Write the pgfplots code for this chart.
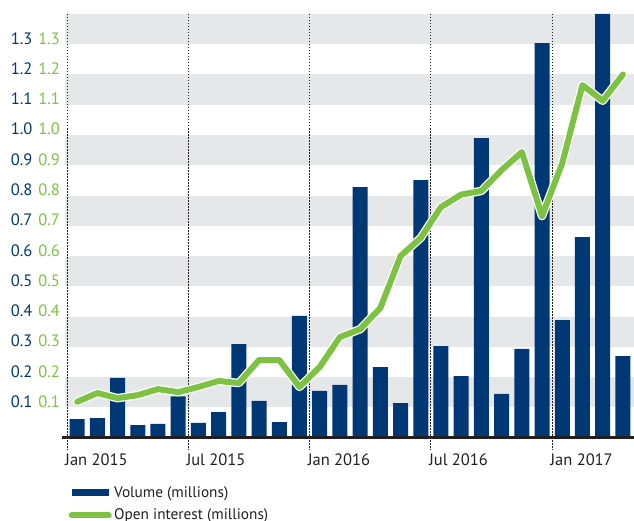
\documentclass[border=0pt]{standalone}
\usepackage{pgfplots}
\usepackage{pgfplotstable}
\pgfplotsset{compat=1.18}
\usepackage{fontspec}
\setmainfont{PT Sans}
\definecolor{volblue}{HTML}{003876}
\definecolor{oigreen}{HTML}{7DC242}
\definecolor{band}{HTML}{E6E7E8}
\definecolor{axisdark}{HTML}{231F20}
\newcommand\yl[1]{\textcolor{volblue}{#1}\hspace{6pt}\textcolor{oigreen}{#1}}
\pgfplotstableread{
x vol oi
0.5 0.061 0.118
1.5 0.064 0.147
2.5 0.197 0.130
3.5 0.041 0.140
4.5 0.045 0.160
5.5 0.136 0.150
6.5 0.048 0.167
7.5 0.084 0.187
8.5 0.309 0.180
9.5 0.121 0.256
10.5 0.051 0.256
11.5 0.402 0.167
12.5 0.154 0.233
13.5 0.174 0.332
14.5 0.828 0.358
15.5 0.233 0.428
16.5 0.114 0.600
17.5 0.851 0.660
18.5 0.302 0.762
19.5 0.203 0.803
20.5 0.990 0.815
21.5 0.144 0.884
22.5 0.293 0.944
23.5 1.304 0.732
24.5 0.388 0.907
25.5 0.662 1.165
26.5 1.400 1.113
27.5 0.269 1.200
}\datatable
\begin{document}
\begin{tikzpicture}
\path[use as bounding box] (0,0) rectangle (634pt,520pt);
\begin{axis}[
  at={(65pt,82.5pt)}, anchor=south west,
  scale only axis, width=569pt, height=423.5pt,
  xmin=-0.1, xmax=28.05, ymin=0, ymax=1.4,
  clip=false,
  axis line style={draw=none},
  tick style={draw=none},
  xtick={0,6,12,18,24},
  xticklabels={Jan 2015,Jul 2015,Jan 2016,Jul 2016,Jan 2017},
  ytick={0.1,0.2,0.3,0.4,0.5,0.6,0.7,0.8,0.9,1.0,1.1,1.2,1.3},
  yticklabels={\yl{0.1},\yl{0.2},\yl{0.3},\yl{0.4},\yl{0.5},\yl{0.6},\yl{0.7},\yl{0.8},\yl{0.9},\yl{1.0},\yl{1.1},\yl{1.2},\yl{1.3}},
  xticklabel style={anchor=base west, inner sep=0pt, xshift=-2pt, yshift=-27.5pt, font=\fontsize{16.5}{20}\selectfont, text=axisdark},
  yticklabel style={anchor=base east, inner sep=0pt, xshift=-5pt, font=\fontsize{16.5}{20}\selectfont},
  legend style={at={(0,0)}, anchor=north west, xshift=3pt, yshift=-47pt, draw=none, fill=none, inner sep=0pt,
    font=\fontsize{15.3}{18}\selectfont, text=axisdark, row sep=6pt,
    /tikz/every even column/.append style={column sep=10pt}},
  legend cell align=left,
]
\fill[band] (axis cs:-0.1,0.1) rectangle (axis cs:28.05,0.2);
\fill[band] (axis cs:-0.1,0.3) rectangle (axis cs:28.05,0.4);
\fill[band] (axis cs:-0.1,0.5) rectangle (axis cs:28.05,0.6);
\fill[band] (axis cs:-0.1,0.7) rectangle (axis cs:28.05,0.8);
\fill[band] (axis cs:-0.1,0.9) rectangle (axis cs:28.05,1.0);
\fill[band] (axis cs:-0.1,1.1) rectangle (axis cs:28.05,1.2);
\fill[band] (axis cs:-0.1,1.3) rectangle (axis cs:28.05,1.4);
\foreach \m in {0,6,12,18,24}{
  \edef\temp{\noexpand\draw[axisdark, line width=1pt, dash pattern=on 1.5pt off 1.5pt] (axis cs:\m,1.4) -- (axis cs:\m,-0.04);}
  \temp
}
\addplot[ybar, bar width=15pt, bar shift=0pt, fill=volblue, draw=none,
  legend image code/.code={\draw[volblue, line width=7pt] (0pt,0pt) -- (37pt,0pt);}]
  table[x=x, y=vol] {\datatable};
\addlegendentry{Volume (millions)}
\draw[axisdark, line width=3pt] (axis cs:-0.25,0) -- (axis cs:28.05,0);
\addplot[white, line width=8.5pt, line join=round, line cap=round, forget plot] table[x=x, y=oi] {\datatable};
\addplot[oigreen, line width=6pt, line join=round, line cap=round,
  legend image code/.code={\draw[oigreen, line width=6pt] (0pt,0pt) -- (37pt,0pt);}]
  table[x=x, y=oi] {\datatable};
\addlegendentry{Open interest (millions)}
\end{axis}
\end{tikzpicture}
\end{document}
